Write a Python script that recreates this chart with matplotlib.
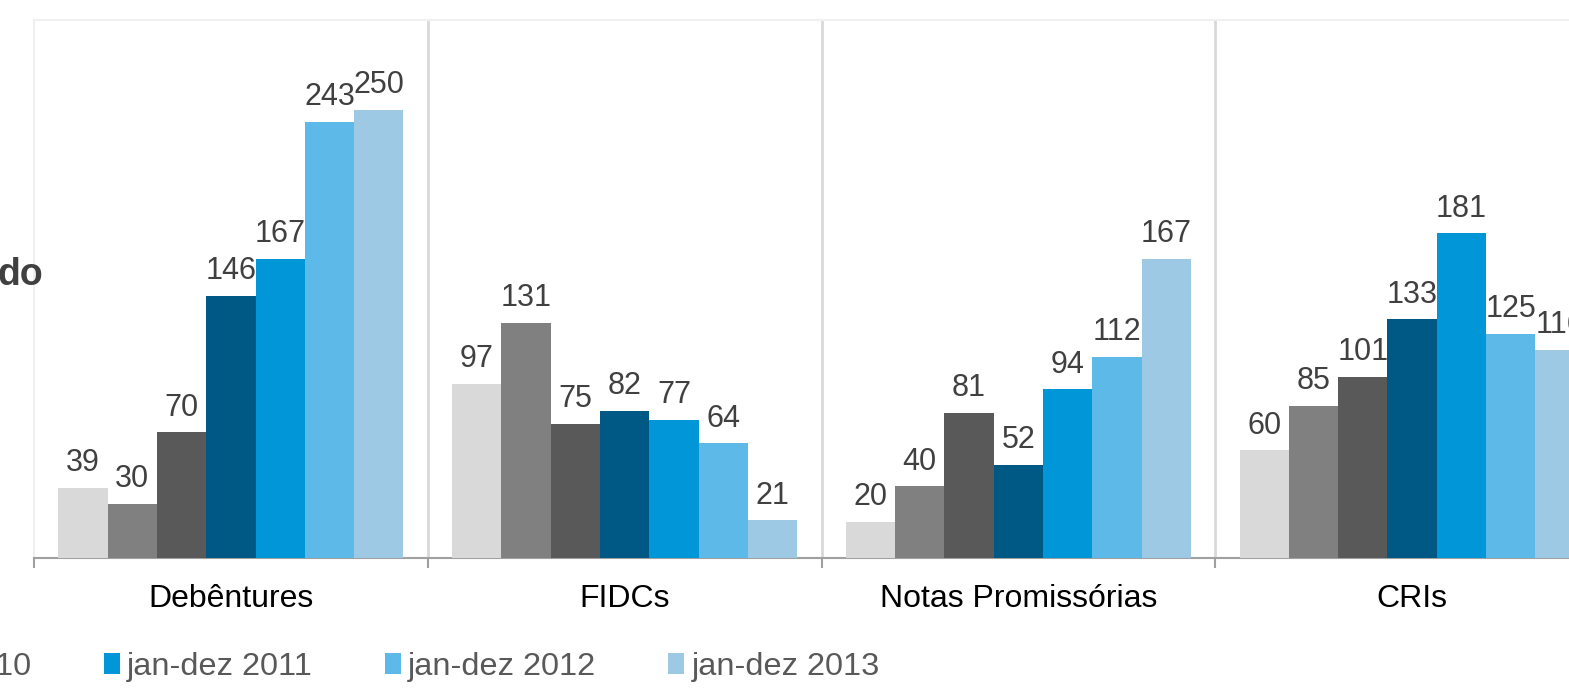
import matplotlib
matplotlib.use("Agg")
import matplotlib.pyplot as plt
import numpy as np

plt.rcParams['font.family'] = ['Liberation Sans', 'DejaVu Sans']

## dados
categorias = ['Debêntures', 'FIDCs', 'Notas Promissórias', 'CRIs']
series = ['jan-dez 2007', 'jan-dez 2008', 'jan-dez 2009', 'jan-dez 2010',
          'jan-dez 2011', 'jan-dez 2012', 'jan-dez 2013']
valores = [
    [39, 97, 20, 60],     # 2007
    [30, 131, 40, 85],    # 2008
    [70, 75, 81, 101],    # 2009
    [146, 82, 52, 133],   # 2010
    [167, 77, 94, 181],   # 2011
    [243, 64, 112, 125],  # 2012
    [250, 21, 167, 116],  # 2013
]
cores = ['#d9d9d9', '#808080', '#595959', '#005985',
         '#0096d8', '#5dbae8', '#9ec9e4']

W, H = 1569, 690
fig = plt.figure(figsize=(W / 100, H / 100), dpi=100)
# o grafico original esta recortado: eixos passam da borda direita
ax = fig.add_axes([34 / W, (H - 558) / H, 1575 / W, (558 - 20) / H])

n = len(series)
largura = 0.1252
centros = np.arange(len(categorias)) + 0.5
barras = []
for i in range(n):
    pos = centros + (i - (n - 1) / 2) * largura
    b = ax.bar(pos, valores[i], largura, color=cores[i], label=series[i], zorder=3)
    ax.bar_label(b, padding=7, fontsize=22, color='#404040')
    barras.append(b)

ax.set_xlim(0, len(categorias))
ax.set_ylim(0, 300)
ax.set_yticks([])

# divisorias entre categorias
for x in range(1, len(categorias) + 1):
    ax.axvline(x, color='#d9d9d9', lw=2, zorder=1)

ax.set_xticks(range(len(categorias) + 1))
ax.set_xticklabels([])
ax.tick_params(axis='x', which='major', length=7, width=1.5, color='#a0a0a0', direction='out')
ax.set_xticks(centros, minor=True)
ax.set_xticklabels(categorias, minor=True, fontsize=23, color='black')
ax.tick_params(axis='x', which='minor', length=0, pad=19)

for lado in ['top', 'left']:
    ax.spines[lado].set_color('#f0f0f0')
    ax.spines[lado].set_linewidth(1.5)
ax.spines['right'].set_visible(False)
ax.spines['bottom'].set_color('#a0a0a0')
ax.spines['bottom'].set_linewidth(1.5)

fig.text(43 / W, 1 - 275 / H, 'do', ha='right', va='center',
         fontsize=27, fontweight='bold', color='#404040')

leg = fig.legend(handles=barras, labels=series, ncol=7, loc='center left',
                 bbox_to_anchor=(-1029 / W, 1 - 667 / H), frameon=False,
                 fontsize=23.4, handlelength=0.48, handleheight=0.65,
                 handletextpad=0.23, columnspacing=2.22, borderpad=0,
                 borderaxespad=0)
for t in leg.get_texts():
    t.set_color('#595959')

fig.savefig('out.png', dpi=100)
